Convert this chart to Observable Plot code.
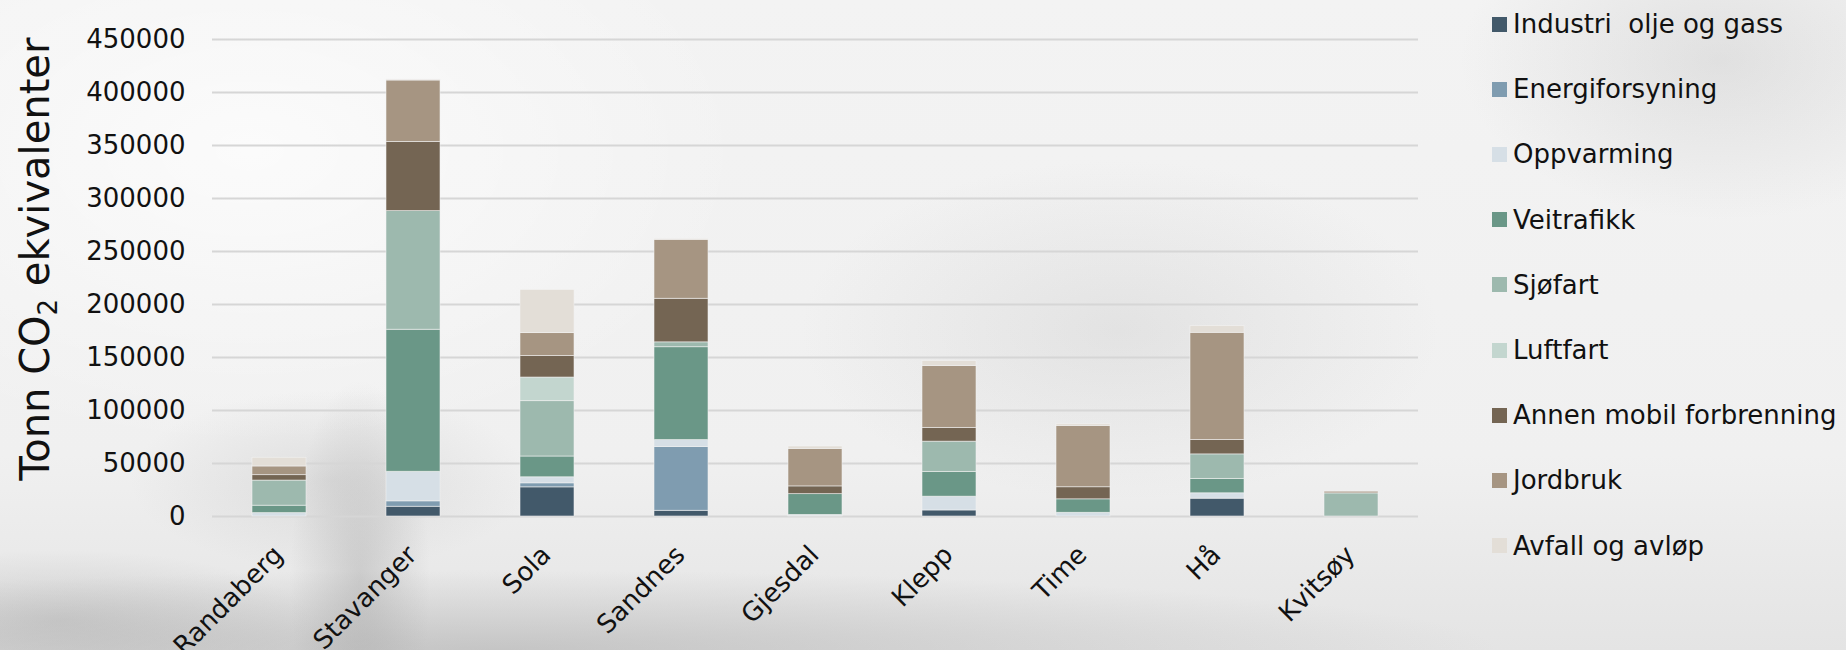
<!DOCTYPE html>
<html>
<head>
<meta charset="utf-8">
<script src="https://cdn.jsdelivr.net/npm/d3@7"></script>
<script src="https://cdn.jsdelivr.net/npm/@observablehq/plot@0.6"></script>
<style>
  html, body { margin: 0; padding: 0; }
  body {
    width: 1846px; height: 650px; overflow: hidden; position: relative;
    font-family: "DejaVu Sans", Verdana, sans-serif;
    background:
      radial-gradient(ellipse 70px 200px at 360px 580px, rgba(150,150,150,0.35), rgba(150,150,150,0) 100%),
      radial-gradient(ellipse 200px 90px at 330px 480px, rgba(170,170,170,0.25), rgba(170,170,170,0) 100%),
      radial-gradient(ellipse 320px 170px at 1120px 330px, rgba(170,170,170,0.2), rgba(170,170,170,0) 100%),
      radial-gradient(ellipse 260px 160px at 1720px 60px, rgba(170,170,170,0.25), rgba(170,170,170,0) 100%),
      radial-gradient(ellipse 1000px 80px at 500px 650px, rgba(150,150,150,0.4), rgba(150,150,150,0) 100%),
      radial-gradient(ellipse 250px 70px at 60px 620px, rgba(150,150,150,0.3), rgba(150,150,150,0) 100%),
      radial-gradient(ellipse 500px 300px at 250px 150px, rgba(255,255,255,0.7), rgba(255,255,255,0) 100%),
      linear-gradient(180deg, #f3f3f3 0%, #f0f0f0 70%, #e4e4e4 100%);
  }
  #chart { position: absolute; left: 0; top: 0; }
  #legend { position: absolute; left: 1492px; top: 0; }
  .item { position: absolute; left: 0; display: flex; align-items: center; white-space: pre; font-size: 26px; color: #111; height: 30px; }
  .sw { width: 15px; height: 15px; margin-right: 6px; flex: none; }
</style>
</head>
<body>
<div id="chart"></div>
<div id="legend"></div>
<script>
const categories = ["Randaberg", "Stavanger", "Sola", "Sandnes", "Gjesdal", "Klepp", "Time", "Hå", "Kvitsøy"];
const seriesNames = ["Industri  olje og gass", "Energiforsyning", "Oppvarming", "Veitrafikk", "Sjøfart", "Luftfart", "Annen mobil forbrenning", "Jordbruk", "Avfall og avløp"];
const seriesColors = ["#42596a", "#7f9cb0", "#d6dfe6", "#6a9787", "#9db9ae", "#c3d6cf", "#746553", "#a69582", "#e3ded7"];

const industri   = [0, 9200, 27500, 5400, 500, 5700, 0, 16800, 0];
const energi     = [0, 5100, 3800, 60100, 0, 0, 0, 0, 0];
const oppvarming = [3200, 27900, 5700, 6600, 1000, 13000, 3500, 5100, 0];
const veitrafikk = [7000, 134000, 19600, 87600, 19600, 23400, 12700, 13600, 0];
const sjofart    = [23700, 111900, 52200, 4600, 0, 28500, 0, 23100, 21800];
const luftfart   = [0, 0, 22300, 0, 0, 0, 0, 0, 0];
const annen      = [5100, 65300, 20300, 41100, 7300, 13000, 11400, 13600, 0];
const jordbruk   = [8200, 57900, 21600, 55600, 35400, 58400, 57900, 101100, 1600];
const avfall     = [8200, 800, 40600, 800, 2200, 4700, 1600, 6300, 0];

const yTicks = [0, 50000, 100000, 150000, 200000, 250000, 300000, 350000, 400000, 450000];

const seriesValues = [industri, energi, oppvarming, veitrafikk, sjofart, luftfart, annen, jordbruk, avfall];
const data = [];
seriesNames.forEach((s, i) => {
  categories.forEach((c, j) => {
    data.push({kommune: c, sektor: s, verdi: seriesValues[i][j]});
  });
});

const font = "DejaVu Sans, Verdana, sans-serif";

const chart = Plot.plot({
  width: 1846,
  height: 650,
  marginLeft: 212,
  marginRight: 428,
  marginTop: 39,
  marginBottom: 134,
  style: {background: "transparent", fontFamily: font, fontSize: "26px", color: "#111"},
  x: {domain: categories, paddingInner: 0.6, paddingOuter: 0.3, label: null},
  y: {domain: [0, 450000], label: null},
  color: {domain: seriesNames, range: seriesColors},
  marks: [
    Plot.ruleY(yTicks, {stroke: "#d6d6d6", strokeWidth: 2}),
    Plot.barY(data, {x: "kommune", y: "verdi", fill: "sektor", order: seriesNames, stroke: "#f4f4f4", strokeWidth: 0.8, strokeOpacity: 0.7}),
    Plot.axisY({ticks: yTicks, tickSize: 0, tickPadding: 27, tickFormat: d => String(d), label: null, fontSize: 26, fill: "#111"}),
    Plot.axisX({tickSize: 0, tickRotate: -45, tickPadding: 34, dx: -1, label: null, fontSize: 26, fill: "#111"})
  ]
});

document.getElementById("chart").appendChild(chart);

// Y-axis title with subscript
const svg = d3.select(chart);
const t = svg.append("text")
  .attr("transform", "translate(49,259) rotate(-90)")
  .attr("text-anchor", "middle")
  .attr("font-family", font)
  .attr("font-size", 40)
  .attr("fill", "#111");
t.append("tspan").text("Tonn CO");
t.append("tspan").attr("font-size", 26).attr("dy", 8).text("2");
t.append("tspan").attr("dy", -8).text(" ekvivalenter");

// Legend
const legend = d3.select("#legend");
seriesNames.forEach((s, i) => {
  const item = legend.append("div").attr("class", "item").style("top", (9 + i * 65.2) + "px");
  item.append("div").attr("class", "sw").style("background", seriesColors[i]);
  item.append("span").text(s);
});
</script>
</body>
</html>
